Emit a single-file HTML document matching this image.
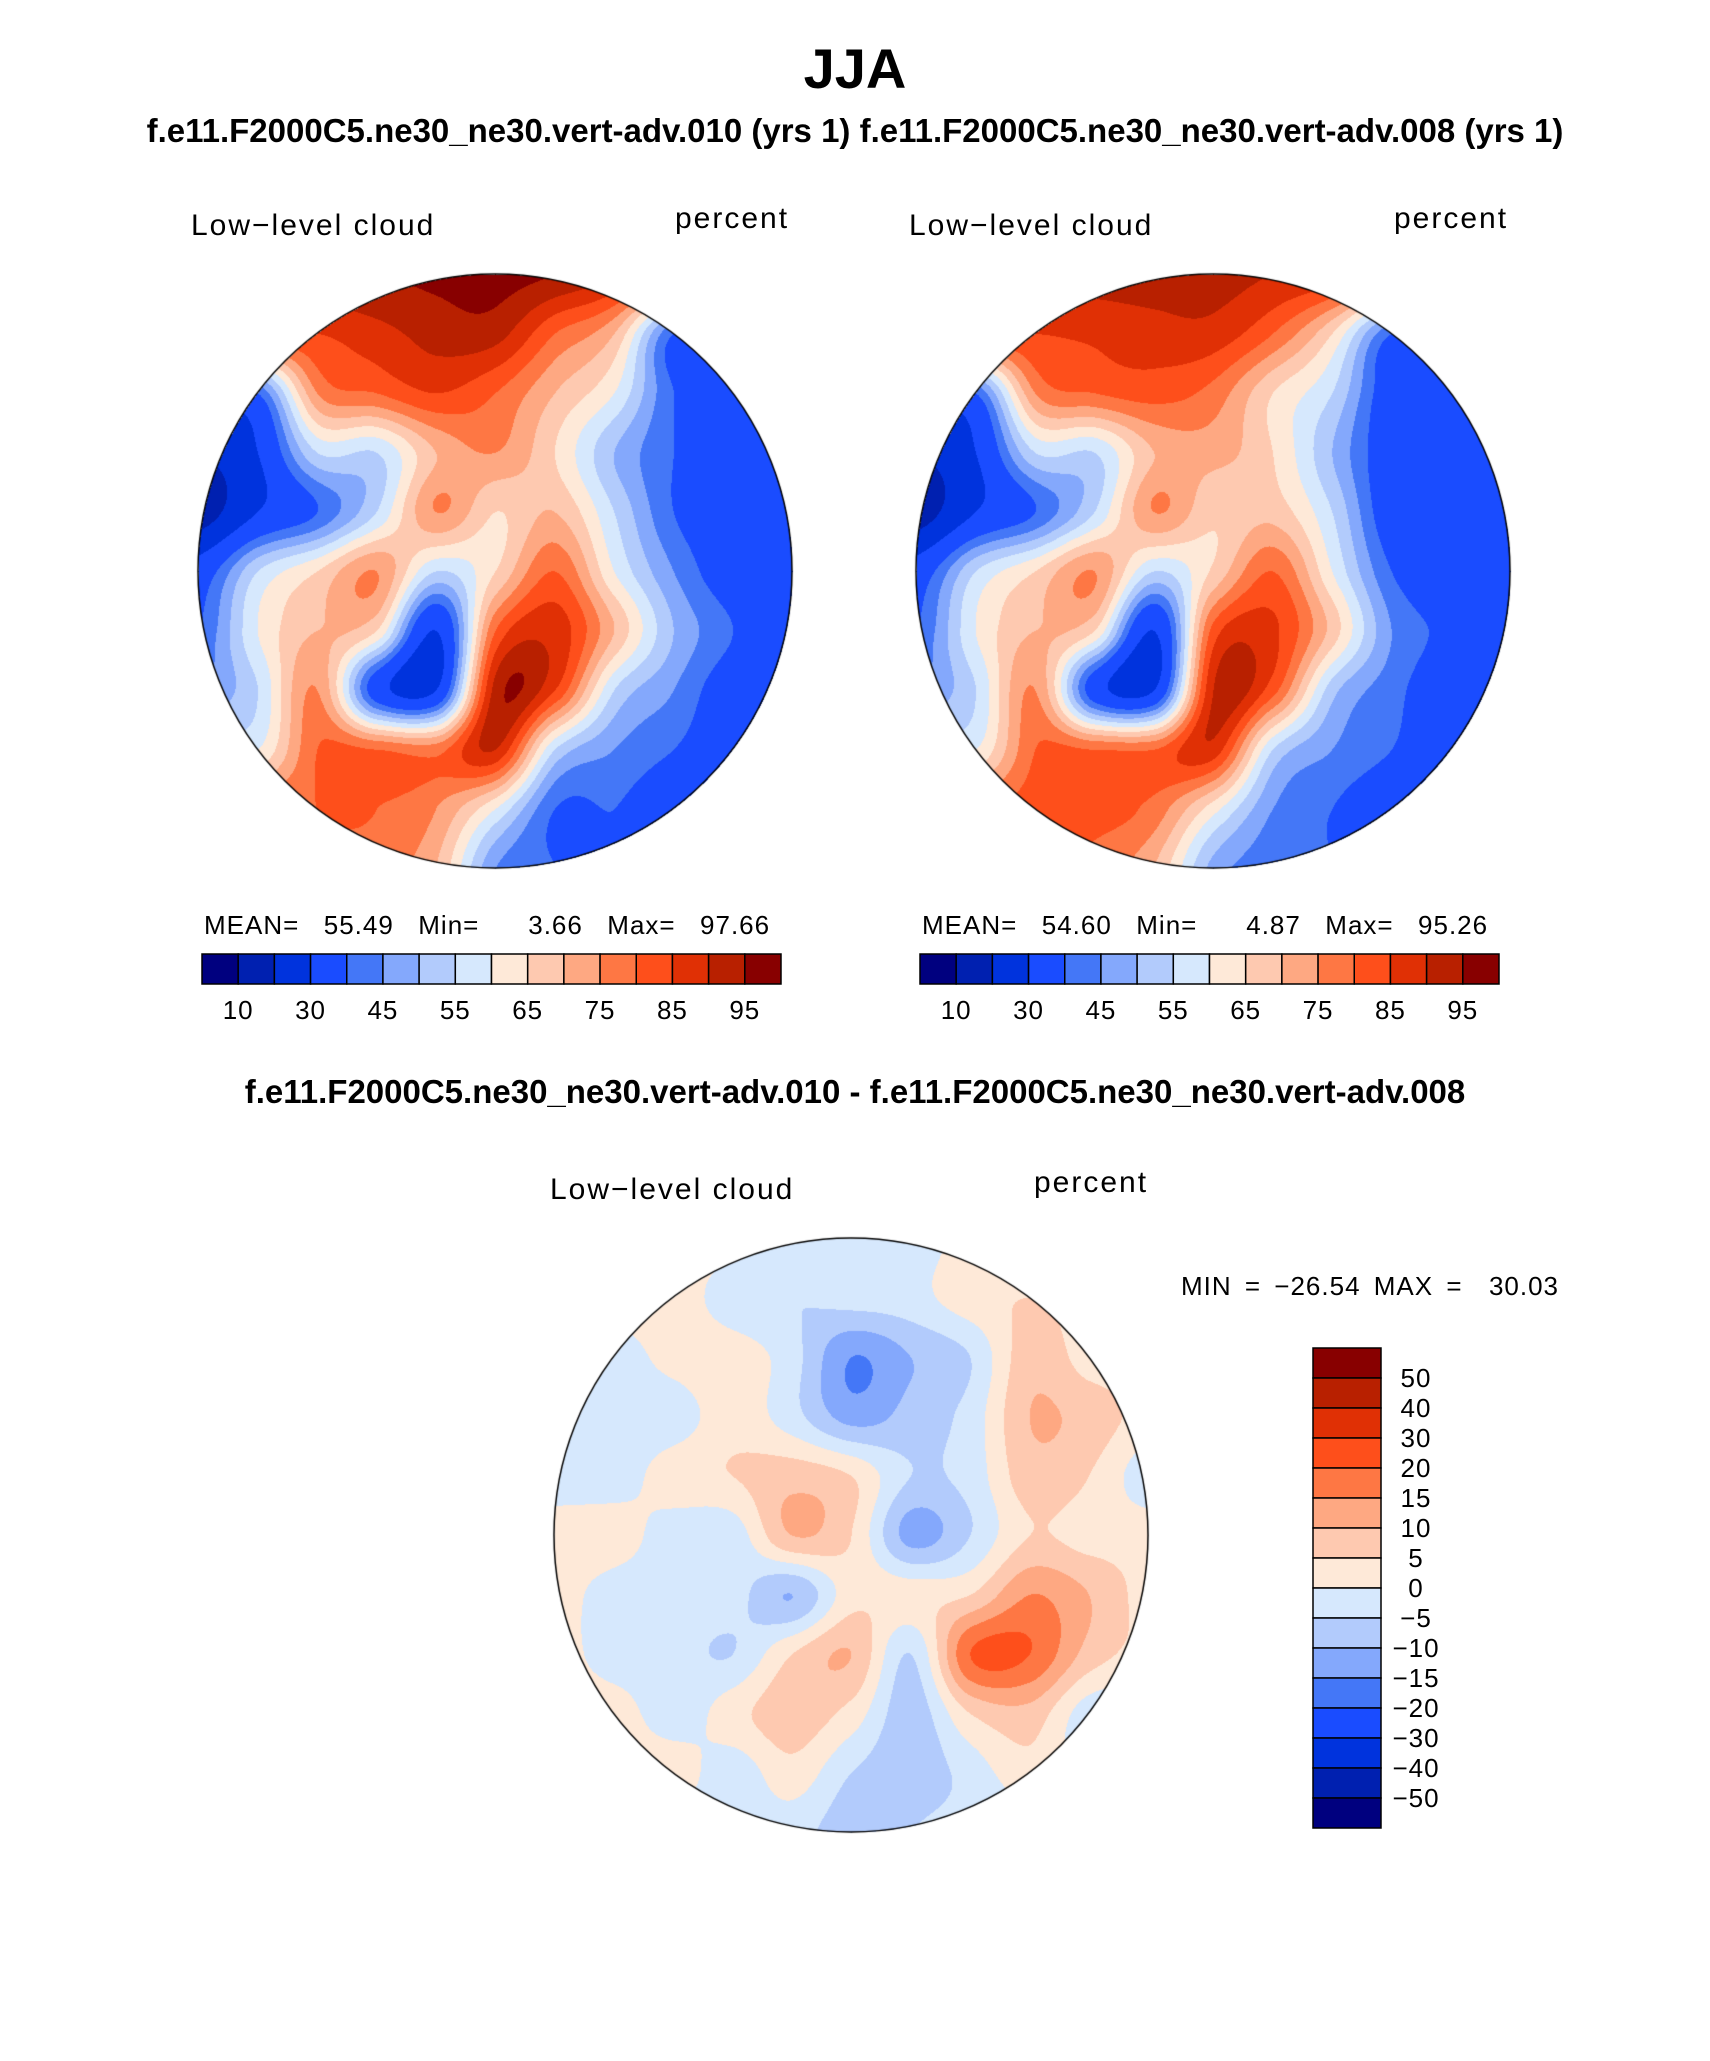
<!DOCTYPE html>
<html><head><meta charset="utf-8"><style>
body{margin:0;background:#fff;width:1710px;height:2061px;position:relative;overflow:hidden;font-family:"Liberation Sans",sans-serif}
.t{position:absolute;white-space:nowrap;color:#000}
.b{font-weight:bold}
.s{font-size:30px;letter-spacing:2px}
canvas{position:absolute}
</style></head><body>
<div class="t b" style="left:0;width:1710px;text-align:center;top:36px;font-size:56px">JJA</div>
<div class="t b" style="left:0;width:1710px;text-align:center;top:112px;font-size:33px">f.e11.F2000C5.ne30_ne30.vert-adv.010 (yrs 1) f.e11.F2000C5.ne30_ne30.vert-adv.008 (yrs 1)</div>
<div class="t s" style="left:191px;top:209px">Low−level cloud</div>
<div class="t s" style="left:675px;top:202px">percent</div>
<div class="t s" style="left:909px;top:209px">Low−level cloud</div>
<div class="t s" style="left:1394px;top:202px">percent</div>
<div class="t s" style="left:204px;top:910px;font-size:26px;letter-spacing:1px;word-spacing:4px">MEAN=&nbsp;&nbsp;55.49&nbsp;&nbsp;Min=&nbsp;&nbsp;&nbsp;&nbsp;3.66&nbsp;&nbsp;Max=&nbsp;&nbsp;97.66</div>
<div class="t s" style="left:922px;top:910px;font-size:26px;letter-spacing:1px;word-spacing:4px">MEAN=&nbsp;&nbsp;54.60&nbsp;&nbsp;Min=&nbsp;&nbsp;&nbsp;&nbsp;4.87&nbsp;&nbsp;Max=&nbsp;&nbsp;95.26</div>
<div class="t b" style="left:0;width:1710px;text-align:center;top:1073px;font-size:33px">f.e11.F2000C5.ne30_ne30.vert-adv.010 - f.e11.F2000C5.ne30_ne30.vert-adv.008</div>
<div class="t s" style="left:550px;top:1173px">Low−level cloud</div>
<div class="t s" style="left:1034px;top:1166px">percent</div>
<div class="t s" style="left:1181px;top:1271px;font-size:26px;letter-spacing:1px;word-spacing:5px">MIN = −26.54 MAX = &nbsp;30.03</div>
<canvas id="m1" width="600" height="600" style="left:195px;top:271px"></canvas>
<canvas id="m2" width="600" height="600" style="left:913px;top:271px"></canvas>
<canvas id="m3" width="600" height="600" style="left:551px;top:1235px"></canvas>
<svg id="ov" width="1710" height="2061" style="position:absolute;left:0;top:0"></svg>
<script>
const colors=["#00007f","#0020b0","#0033dd","#1a4cff","#4477f7","#84a8fc","#b2cbfc","#d6e8fd","#fee9d8","#fec9b0","#fea882","#fe7744","#fe4f1b","#e03005","#b82000","#880000"];
const levels=[10,20,30,40,45,50,55,60,65,70,75,80,85,90,95];
const tickLabels=["10","30","45","55","65","75","85","95"];
const diffLevels=[-50,-40,-30,-20,-15,-10,-5,0,5,10,15,20,30,40,50];
const diffLabels=["50","40","30","20","15","10","5","0","−5","−10","−15","−20","−30","−40","−50"];
const grid1=[
[90,92,94,95,96,97,95,90,80,60,50],
[85,85,85,88,92,92,80,70,40,40,40],
[35,40,75,80,85,80,70,60,40,35,35],
[20,30,55,55,70,75,65,50,40,35,30],
[15,30,40,55,75,65,70,55,40,35,30],
[35,55,65,75,55,65,80,60,45,35,30],
[40,60,70,65,30,80,88,70,50,40,30],
[45,55,75,35,30,92,85,55,45,35,30],
[60,60,80,80,78,90,55,45,40,35,35],
[80,80,80,80,75,60,40,40,35,30,30],
[80,80,80,78,70,45,40,40,35,30,30]];
const grid2=[
[88,90,90,92,92,92,90,88,80,60,50],
[85,85,85,86,88,88,80,65,40,40,40],
[35,40,75,80,82,78,65,55,35,35,35],
[20,30,55,55,70,72,65,50,35,35,30],
[15,30,40,55,75,66,68,55,35,35,30],
[35,55,65,75,55,66,80,60,40,35,30],
[40,60,70,65,30,82,86,68,45,38,30],
[45,55,75,35,30,90,82,52,42,35,30],
[60,60,80,80,80,88,55,45,40,35,35],
[80,80,82,82,78,62,45,40,35,30,30],
[80,80,80,78,70,48,42,40,35,30,30]];
const grid3=[
[0,0,2,2,-3,-3,-3,2,2,2,2],
[2,2,3,-3,-5,-3,-2,3,5,3,3],
[-3,-3,2,3,-3,-15,-10,-5,8,3,3],
[-3,-3,-3,3,-3,-12,-8,-3,10,8,3],
[-3,-3,3,5,8,5,-5,-3,8,5,-3],
[3,3,-3,-3,10,5,-12,-5,5,3,3],
[3,-3,-3,-3,-10,3,3,5,15,10,3],
[3,-3,-3,-5,5,10,-5,20,20,8,3],
[3,3,-3,3,8,3,-8,5,8,-3,-3],
[3,3,3,-3,3,-5,-8,-3,3,-3,-3],
[3,3,-3,-3,-3,-8,-5,-3,-3,-3,-3]];
function hex(c){return [parseInt(c.substr(1,2),16),parseInt(c.substr(3,2),16),parseInt(c.substr(5,2),16)];}
const rgb=colors.map(hex);
function sample(g,x,y){
  function cr(p0,p1,p2,p3,t){return 0.5*(2*p1+(-p0+p2)*t+(2*p0-5*p1+4*p2-p3)*t*t+(-p0+3*p1-3*p2+p3)*t*t*t);}
  const n=g.length-1;const ix=Math.floor(x),iy=Math.floor(y);const fx=x-ix,fy=y-iy;
  const cl=v=>Math.max(0,Math.min(n,v));const rows=[];
  for(let j=-1;j<3;j++){const r=g[cl(iy+j)];rows.push(cr(r[cl(ix-1)],r[cl(ix)],r[cl(ix+1)],r[cl(ix+2)],fx));}
  return cr(rows[0],rows[1],rows[2],rows[3],fy);
}
function drawMap(id,g,lv){
  const cv=document.getElementById(id),ctx=cv.getContext('2d');
  const W=600,R=297,C=300;const img=ctx.createImageData(W,W);
  for(let py=0;py<W;py++)for(let px=0;px<W;px++){
    const dx=px-C,dy=py-C;if(dx*dx+dy*dy>R*R)continue;
    const v=sample(g,(dx/R+1)*5,(dy/R+1)*5);
    let k=0;while(k<lv.length&&v>=lv[k])k++;
    const c=rgb[k];const o=(py*W+px)*4;img.data[o]=c[0];img.data[o+1]=c[1];img.data[o+2]=c[2];img.data[o+3]=255;}
  ctx.putImageData(img,0,0);
  ctx.beginPath();ctx.arc(C,C,R,0,Math.PI*2);ctx.lineWidth=1.5;ctx.strokeStyle='#000';ctx.stroke();
}
drawMap('m1',grid1,levels);drawMap('m2',grid2,levels);drawMap('m3',grid3,diffLevels);
const ov=document.getElementById('ov');const NS='http://www.w3.org/2000/svg';
function hbar(x0,y0,w,h,name){
  const bw=w/colors.length;
  colors.forEach((c,i)=>{const r=document.createElementNS(NS,'rect');
    r.setAttribute('x',x0+i*bw);r.setAttribute('y',y0);r.setAttribute('width',bw);r.setAttribute('height',h);
    r.setAttribute('fill',c);r.setAttribute('stroke','#000');r.setAttribute('stroke-width','1.5');
    
    
    ov.appendChild(r);});
  tickLabels.forEach((l,i)=>{const t=document.createElementNS(NS,'text');
    t.setAttribute('x',x0+(1+2*i)*bw);t.setAttribute('y',y0+h+35);t.setAttribute('text-anchor','middle');
    t.setAttribute('font-size','26');t.setAttribute('letter-spacing','1');t.setAttribute('font-family','Liberation Sans, sans-serif');t.textContent=l;
    
    
    ov.appendChild(t);});
}
hbar(202,954,579,30,'left-colorbar');hbar(920,954,579,30,'right-colorbar');
(function(){const x0=1313,y0=1348,w=68,h=480,bh=h/16;
  for(let i=0;i<16;i++){const r=document.createElementNS(NS,'rect');
    r.setAttribute('x',x0);r.setAttribute('y',y0+i*bh);r.setAttribute('width',w);r.setAttribute('height',bh);
    r.setAttribute('fill',colors[15-i]);r.setAttribute('stroke','#000');r.setAttribute('stroke-width','1.5');
    
    
    ov.appendChild(r);}
  diffLabels.forEach((l,i)=>{const t=document.createElementNS(NS,'text');
    t.setAttribute('x',1416);t.setAttribute('y',y0+(i+1)*bh+9);t.setAttribute('text-anchor','middle');
    t.setAttribute('font-size','26');t.setAttribute('letter-spacing','1');t.setAttribute('font-family','Liberation Sans, sans-serif');t.textContent=l;
    
    
    ov.appendChild(t);});
})();
</script>
</body></html>
